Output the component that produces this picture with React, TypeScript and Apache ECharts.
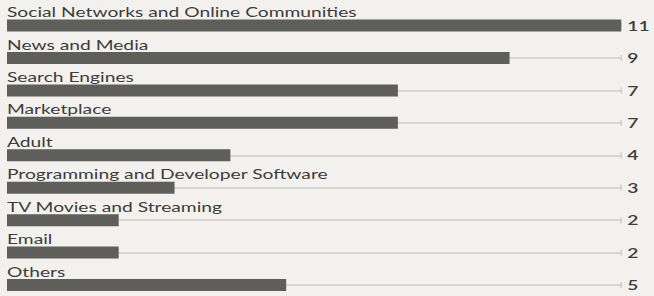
import React, { useEffect, useRef } from "react";
import * as echarts from "echarts";

const categories = [
  "Social Networks and Online Communities",
  "News and Media",
  "Search Engines",
  "Marketplace",
  "Adult",
  "Programming and Developer Software",
  "TV Movies and Streaming",
  "Email",
  "Others",
];
const values = [11, 9, 7, 7, 4, 3, 2, 2, 5];
const maxValue = 11;

const W = 654;
const H = 296;
const INNER_W = 442;
const STRETCH = W / INNER_W;

export default function App() {
  const ref = useRef<HTMLDivElement>(null);
  useEffect(() => {
    document.body.style.margin = "0";
    document.body.style.background = "#f3f1ee";
    const chart = echarts.init(ref.current!, null, { renderer: "svg" });
    chart.setOption({
      animation: false,
      backgroundColor: "#f3f1ee",
      textStyle: { fontFamily: "Lato" },
      grid: {
        left: 7 / STRETCH,
        right: 25 / STRETCH,
        top: 25.5,
        bottom: 11,
        containLabel: false,
      },
      xAxis: { type: "value", min: 0, max: maxValue, show: false },
      yAxis: [
        {
          type: "category",
          data: categories,
          inverse: true,
          boundaryGap: false,
          axisLine: { show: false },
          axisTick: { show: false },
          axisLabel: { show: false },
          splitLine: { show: true, lineStyle: { color: "#cfcdca", width: 1.5 } },
        },
        {
          type: "category",
          data: values.map(String),
          inverse: true,
          boundaryGap: false,
          position: "right",
          axisLine: { show: false },
          axisTick: { show: false },
          splitLine: { show: false },
          axisLabel: {
            show: true,
            margin: 6 / STRETCH,
            color: "#3c3c3c",
            fontSize: 13,
            fontWeight: 600,
            fontFamily: "Lato",
          },
        },
      ],
      series: [
        {
          type: "bar",
          yAxisIndex: 0,
          data: values,
          barWidth: 12,
          z: 3,
          itemStyle: { color: "#5e5e5a" },
          label: {
            show: true,
            position: [0, -1],
            align: "left",
            verticalAlign: "bottom",
            formatter: "{b}",
            color: "#3c3c3c",
            fontSize: 13,
            fontFamily: "Lato",
          },
        },
        {
          type: "scatter",
          yAxisIndex: 0,
          data: categories.map(() => maxValue),
          symbol: "rect",
          symbolSize: [1, 6],
          z: 2,
          itemStyle: { color: "#c9c7c3" },
          silent: true,
        },
      ],
    });
    return () => chart.dispose();
  }, []);
  return (
    <div style={{ width: W, height: H, overflow: "hidden", background: "#f3f1ee" }}>
      <div
        ref={ref}
        style={{
          width: INNER_W,
          height: H,
          transform: `scaleX(${STRETCH})`,
          transformOrigin: "0 0",
        }}
      />
    </div>
  );
}
